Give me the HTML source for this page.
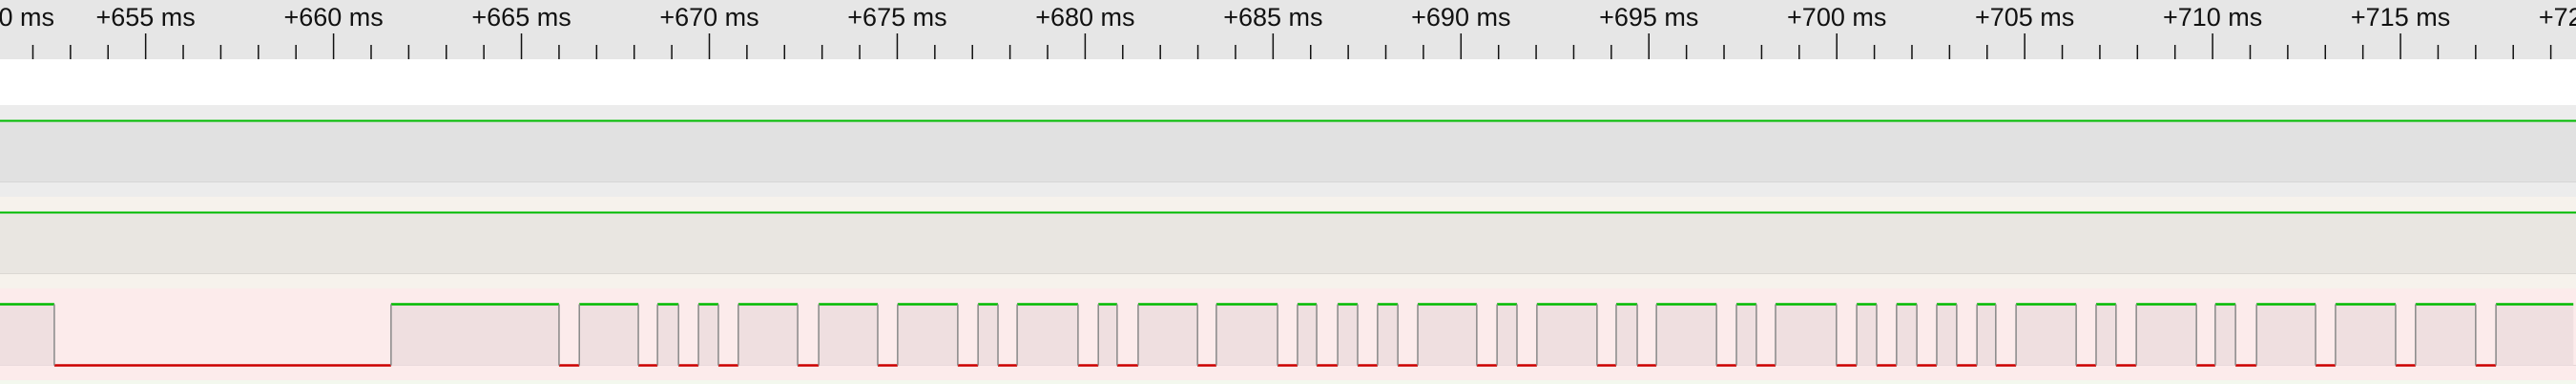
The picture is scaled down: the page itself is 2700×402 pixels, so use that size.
<!DOCTYPE html>
<html><head><meta charset="utf-8"><style>
html,body{margin:0;padding:0;background:#fff}
svg{display:block}
text{font-family:"Liberation Sans",sans-serif;font-size:27px;fill:#111}
</style></head><body>
<svg id="chart" width="2700" height="402" viewBox="0 0 2700 402" xmlns="http://www.w3.org/2000/svg">
<rect x="0" y="0" width="2700" height="62" fill="#e6e6e6"/>
<rect x="0" y="62" width="2700" height="48" fill="#ffffff"/>
<g>
<rect x="0" y="110" width="2700" height="96" fill="#ececec"/>
<rect x="0" y="127" width="2700" height="63.5" fill="#e1e1e1"/>
<line x1="0" x2="2700" y1="190.5" y2="190.5" stroke="#d6d6d6" stroke-width="1"/>
<line x1="0" x2="2700" y1="126.5" y2="126.5" stroke="#00bb00" stroke-width="2"/>
</g>
<g>
<rect x="0" y="206" width="2700" height="96" fill="#f6f2ec"/>
<rect x="0" y="223" width="2700" height="63.5" fill="#e9e6e1"/>
<line x1="0" x2="2700" y1="286.5" y2="286.5" stroke="#dbd8d3" stroke-width="1"/>
<line x1="0" x2="2700" y1="222.5" y2="222.5" stroke="#00bb00" stroke-width="2"/>
</g>
<g>
<rect x="0" y="302" width="2700" height="96" fill="#fcebeb"/>
<rect x="0" y="398" width="2700" height="4" fill="#f3f8ee"/>
<line x1="0" x2="2700" y1="382.5" y2="382.5" stroke="#e6d6d7" stroke-width="1"/>
<g id="lane3"></g>
</g>
<g id="ruler"></g>
</svg>
<script>
// transition times (ms) of lane-3 signal; starts high
const startMs = 649;
const endMs = 719.6;
const initialHigh = true;
const transitions = [652.57,661.53,666.00,666.54,668.11,668.62,669.18,669.71,670.24,670.77,672.35,672.91,674.48,675.01,676.61,677.15,677.68,678.19,679.81,680.35,680.85,681.41,682.99,683.49,685.12,685.65,686.16,686.72,687.25,687.78,688.32,688.85,690.42,690.96,691.49,692.02,693.62,694.13,694.69,695.20,696.80,697.33,697.86,698.37,699.99,700.53,701.06,701.59,702.13,702.66,703.19,703.73,704.23,704.77,706.37,706.90,707.43,707.97,709.57,710.07,710.61,711.17,712.74,713.27,714.87,715.40,717.00,717.54];
const tickStart = 649;
const tickEnd = 722;
const majorEvery = 5;

const NS = "http://www.w3.org/2000/svg";
function xScale(ms){ return (ms - 650) * 39.39 - 44.3; }
const yHigh = 318.5, yLow = 382.5;
function mk(tag, attrs){ const e=document.createElementNS(NS,tag); for(const k in attrs) e.setAttribute(k,attrs[k]); return e; }

const lane = document.getElementById('lane3');
const pts = [startMs].concat(transitions, [endMs]);
let high = initialHigh;
for (let i=0;i<pts.length-1;i++){
  const x0 = xScale(pts[i]), x1 = xScale(pts[i+1]);
  if (high){
    const f = mk('rect',{x:x0,y:yHigh,width:x1-x0,height:yLow-yHigh,fill:'#efdfe0'});
    
    
    lane.appendChild(f);
  }
  const s = mk('line',{x1:x0,x2:x1,y1:high?yHigh:yLow,y2:high?yHigh:yLow,stroke:high?'#00bb00':'#cc0000','stroke-width':2.5});
  
  
  lane.appendChild(s);
  high = !high;
}
for (let i=0;i<transitions.length;i++){
  const x = xScale(transitions[i]);
  const e = mk('line',{x1:x,x2:x,y1:yHigh,y2:yLow,stroke:'#888888','stroke-width':1.5});
  
  
  lane.appendChild(e);
}

const ruler = document.getElementById('ruler');
for (let t=tickStart;t<=tickEnd;t++){
  const x = xScale(t);
  const major = (t % majorEvery) === 0;
  const tk = mk('line',{x1:x,x2:x,y1:major?35:47,y2:62,stroke:'#111','stroke-width':1.5});
  
  
  ruler.appendChild(tk);
  if (major){
    const first = x < 0;
    const tx = mk('text',{x:first?57:x,y:27,'text-anchor':first?'end':'middle'});
    tx.textContent = '+' + t + ' ms';
    
    
    ruler.appendChild(tx);
  }
}
</script>
</body></html>
